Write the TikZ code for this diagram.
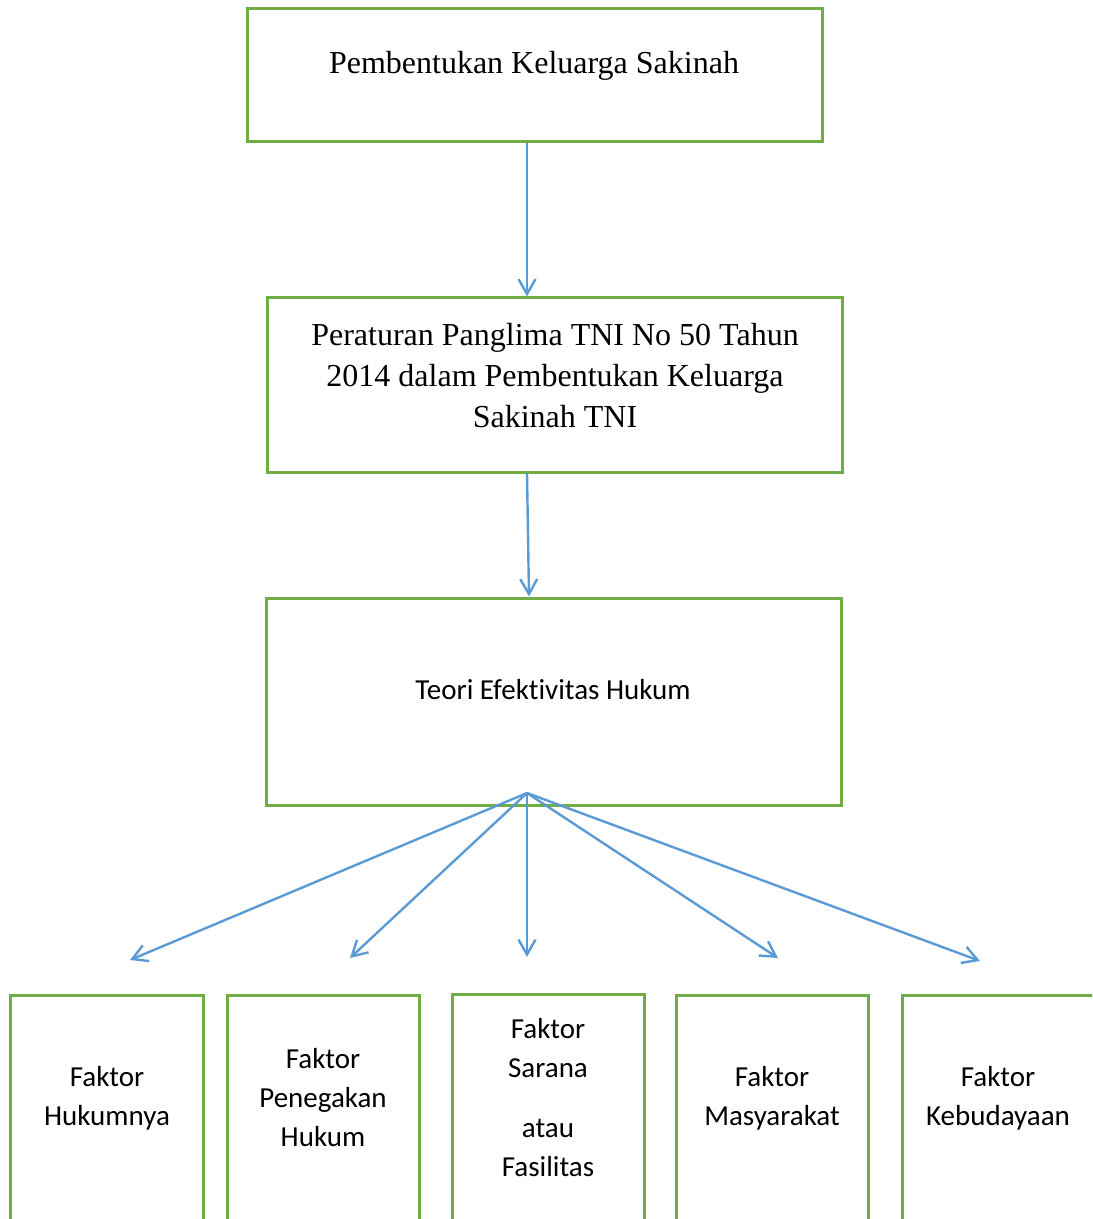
\documentclass[tikz,border=0pt]{standalone}
\usepackage{fontspec}
\setmainfont{Liberation Serif}
\newfontfamily\calibri[Ligatures=NoCommon]{Carlito}
\usetikzlibrary{arrows.meta,fit}

\definecolor{kotak}{RGB}{112,173,71}
\definecolor{panah}{RGB}{91,155,213}

\tikzset{
  kotakhijau/.style={draw=kotak, line width=1.5pt, inner sep=0pt},
  teksserif/.style={font=\fontsize{16}{20.5}\selectfont, align=center},
  tekssans/.style={font=\calibri\fontsize{14.5}{19.5}\selectfont, align=center},
  panahbiru/.style={draw=panah, line width=1.2pt, -{Straight Barb[length=7.5pt,width=8.5pt]}}
}

\begin{document}
\begin{tikzpicture}[x=0.5pt, y=-0.5pt]

\useasboundingbox (0,0) rectangle (1092,1219);
\clip (0,0) rectangle (1092,1219);

% Kotak atas
\node[kotakhijau, fit={(247,9) (822,142)}] (pembentukan) {};
\node[teksserif] (tpembentukan) at (534,66) {Pembentukan Keluarga Sakinah};

% Peraturan Panglima
\node[kotakhijau, fit={(267,298) (842,472)}] (peraturan) {};
\node[teksserif] (tperaturan) at (555,376)
{Peraturan Panglima TNI No 50 Tahun\\2014 dalam Pembentukan Keluarga\\Sakinah TNI};

% Teori
\node[kotakhijau, fit={(266,598) (841,805)}] (teori) {};
\node[tekssans] (tteori) at (553,690) {Teori Efektivitas Hukum};

% Faktor-faktor
\node[kotakhijau, fit={(10,995) (203,1240)}] (hukumnya) {};
\node[tekssans] (thukumnya) at (107,1098) {Faktor\\Hukumnya};

\node[kotakhijau, fit={(227,995) (419,1240)}] (penegakan) {};
\node[tekssans] (tpenegakan) at (323,1098) {Faktor\\Penegakan\\Hukum};

\node[kotakhijau, fit={(452,994) (644,1240)}] (sarana) {};
\node[tekssans] (tsarana) at (548,1098) {Faktor\\Sarana\\[10.5pt]atau\\Fasilitas};

\node[kotakhijau, fit={(676,995) (868,1240)}] (masyarakat) {};
\node[tekssans] (tmasyarakat) at (772,1098) {Faktor\\Masyarakat};

\node[kotakhijau, fit={(902,995) (1094,1240)}] (kebudayaan) {};
\node[tekssans] (tkebudayaan) at (998,1098) {Faktor\\Kebudayaan};

% Panah
\coordinate (pusat) at (527,793);
\draw[panahbiru] (pembentukan.south -| pusat) -- (peraturan.north -| pusat);
\draw[panahbiru] (peraturan.south -| pusat) -- ([xshift=1]teori.north -| pusat);

\coordinate (ujunga) at (130,960);
\coordinate (ujungb) at (350,958);
\coordinate (ujungc) at (527,957);
\coordinate (ujungd) at (778,958);
\coordinate (ujunge) at (980,961);

\foreach \u in {ujunga,ujungb,ujungc,ujungd,ujunge}
  \draw[panahbiru] (pusat) -- (\u);

\end{tikzpicture}
\end{document}
